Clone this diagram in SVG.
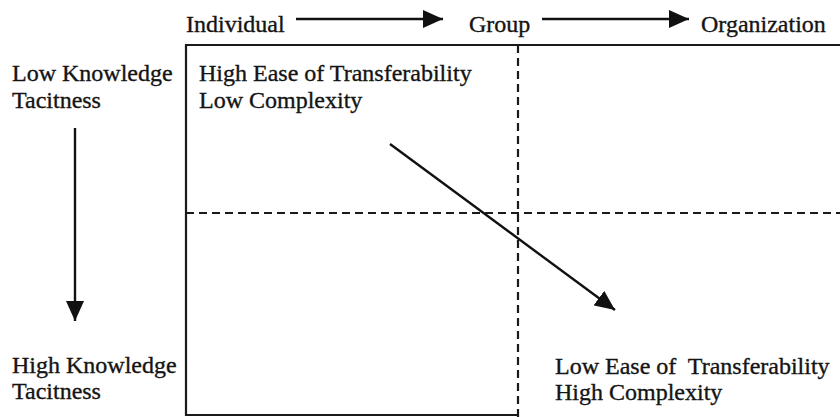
<svg xmlns="http://www.w3.org/2000/svg" width="840" height="417" viewBox="0 0 840 417">
  <style>
    .lbl { font-family: "Liberation Serif", "Times New Roman", serif; font-size: 24px; fill: #141414; stroke: #141414; stroke-width: 0.35; white-space: pre; }
    .edge { stroke: #1a1a1a; stroke-width: 2.2; fill: none; }
    .dash { stroke: #1a1a1a; stroke-width: 2.2; fill: none; stroke-dasharray: 8 5; }
    .conn { stroke: #111; stroke-width: 2.4; fill: none; }
  </style>
  <defs>
    <marker id="head" markerUnits="userSpaceOnUse" markerWidth="22" markerHeight="18" refX="20" refY="9" orient="auto">
      <path d="M0,0 L20,9 L0,18 z" fill="#111"/>
    </marker>
  </defs>
  <rect width="840" height="417" fill="#fff"/>

  <!-- matrix frame -->
  <g id="frame">
    <path class="edge" d="M840,45 H186 V415 H518"/>
    <line class="dash" x1="518" y1="45" x2="518" y2="417"/>
    <line class="dash" x1="186" y1="213" x2="840" y2="213"/>
  </g>

  <!-- horizontal axis: level of analysis -->
  <g id="individual"><text class="lbl" x="186" y="32">Individual</text></g>
  <g id="group"><text class="lbl" x="469" y="32">Group</text></g>
  <g id="organization"><text class="lbl" x="701" y="32">Organization</text></g>

  <!-- vertical axis: tacitness -->
  <g id="low-tacitness">
    <text class="lbl" x="12" y="81">Low Knowledge</text>
    <text class="lbl" x="12" y="108">Tacitness</text>
  </g>
  <g id="high-tacitness">
    <text class="lbl" x="12" y="373">High Knowledge</text>
    <text class="lbl" x="12" y="399">Tacitness</text>
  </g>

  <!-- quadrant labels -->
  <g id="high-ease">
    <text class="lbl" x="199" y="81">High Ease of Transferability</text>
    <text class="lbl" x="199" y="108">Low Complexity</text>
  </g>
  <g id="low-ease">
    <text class="lbl" x="555" y="374" xml:space="preserve">Low Ease of  Transferability</text>
    <text class="lbl" x="555" y="400">High Complexity</text>
  </g>

  <!-- connectors -->
  <g id="connectors">
    <line class="conn" x1="296" y1="19" x2="443" y2="19" marker-end="url(#head)"/>
    <line class="conn" x1="542" y1="19" x2="689" y2="19" marker-end="url(#head)"/>
    <line class="conn" x1="75" y1="128" x2="75" y2="321" marker-end="url(#head)"/>
    <line class="conn" x1="390" y1="144" x2="615" y2="310" marker-end="url(#head)"/>
  </g>
</svg>
